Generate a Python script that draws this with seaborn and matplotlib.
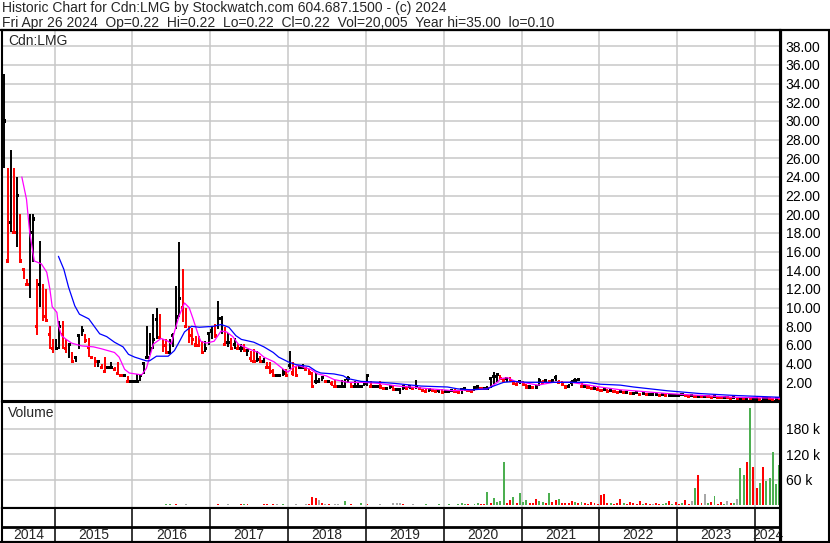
import numpy as np
import pandas as pd
import seaborn as sns
import matplotlib
matplotlib.use('Agg')
from matplotlib import pyplot as plt
from matplotlib.lines import Line2D

# half-month bars, May 2014 .. Apr 2024
START = 2014 + 4 / 12
X0, X1 = 2014.325, 2024.321

high = [
    35.0, 25.0, 26.9, 25.0, 24.0, 20.0, 14.1, 13.1, 20.0, 20.0, 13.1, 17.1, 12.5, 12.0, 8.0, 6.6,
    6.6, 8.6, 8.6, 6.6, 6.1, 5.2, 4.7, 7.2, 8.0, 7.2, 6.7, 4.7, 4.7, 4.2, 4.0, 4.7, 3.6, 4.2, 3.6, 4.2, 2.9, 2.7, 2.7, 2.1,
    2.1, 2.9, 2.9, 4.2, 8.0, 7.3, 9.3, 10.0, 9.3, 6.6, 6.6, 6.6, 7.3, 12.3, 17.0, 14.1, 10.0, 8.0, 7.8, 7.0, 7.0, 6.4, 6.4, 7.2,
    8.0, 8.2, 10.7, 9.1, 7.9, 7.3, 6.8, 6.8, 6.1, 6.1, 6.1, 5.6, 5.4, 5.6, 5.4, 4.8, 4.6, 4.2, 4.2, 3.4, 2.9, 2.9, 3.4, 3.4,
    5.4, 4.2, 3.8, 3.6, 4.0, 3.6, 3.4, 3.1, 3.0, 2.5, 2.6, 2.1, 2.1, 2.1, 2.2, 1.6, 2.2, 2.4, 2.7, 1.9, 2.1, 1.9, 1.6, 2.0,
    2.7, 2.1, 1.6, 1.6, 2.1, 1.5, 1.3, 1.6, 1.6, 1.3, 1.3, 1.5, 1.6, 1.6, 1.5, 2.3, 1.4, 1.3, 1.3, 1.2, 1.2, 1.1, 1.2, 1.3,
    1.0, 1.1, 1.2, 1.3, 1.0, 1.4, 1.3, 1.3, 1.2, 1.4, 1.6, 1.4, 1.3, 1.6, 2.6, 3.1, 3.0, 2.8, 2.5, 2.5, 2.6, 2.2, 2.0, 2.2,
    2.1, 1.8, 1.6, 1.6, 1.6, 2.5, 2.3, 2.3, 2.3, 2.3, 2.8, 2.3, 2.1, 1.7, 1.8, 2.2, 2.5, 2.5, 2.0, 1.8, 1.7, 1.5, 1.6, 1.5,
    1.3, 1.3, 1.3, 1.2, 1.2, 1.1, 1.2, 1.0, 1.0, 1.0, 0.9, 1.0, 0.9, 0.9, 0.9, 0.8, 0.8, 0.8, 0.8, 0.8, 0.7, 0.8, 0.7, 0.7,
    0.8, 0.7, 0.7, 0.65, 0.6, 0.6, 0.6, 0.6, 0.55, 0.5, 0.5, 0.5, 0.5, 0.45, 0.45, 0.45, 0.4, 0.4, 0.4, 0.4, 0.35, 0.35, 0.35, 0.3,
    0.3, 0.3, 0.3, 0.35, 0.35, 0.3, 0.3, 0.22,
]
low = [
    25.0, 15.0, 18.1, 18.1, 16.5, 15.0, 13.1, 12.5, 11.0, 14.9, 7.1, 10.1, 8.6, 8.6, 5.6, 5.1,
    5.6, 5.6, 5.6, 5.1, 4.6, 4.2, 4.2, 5.6, 7.0, 6.2, 4.7, 4.7, 3.6, 3.6, 3.6, 3.2, 3.6, 3.6, 3.2, 2.9, 2.7, 2.7, 2.1, 2.1,
    2.1, 2.1, 2.1, 2.9, 4.7, 4.9, 5.6, 6.6, 6.6, 5.2, 5.2, 5.2, 5.8, 7.7, 9.0, 8.5, 8.0, 6.2, 6.0, 5.9, 5.9, 5.2, 5.2, 6.0,
    6.6, 6.8, 7.7, 7.2, 6.1, 5.8, 5.6, 5.6, 5.6, 5.2, 5.2, 4.8, 4.2, 4.2, 4.2, 4.2, 4.2, 3.6, 2.9, 2.7, 2.7, 2.7, 2.7, 2.7,
    3.4, 2.7, 2.7, 3.6, 3.4, 3.4, 3.0, 1.6, 1.8, 2.1, 2.1, 2.1, 2.1, 1.6, 1.6, 1.6, 1.4, 1.6, 1.9, 1.6, 1.6, 1.6, 1.6, 1.6,
    1.6, 1.6, 1.6, 1.6, 1.3, 1.3, 1.3, 1.3, 1.2, 1.2, 0.8, 1.2, 1.3, 1.3, 1.3, 1.3, 1.3, 1.1, 1.0, 1.0, 1.0, 1.0, 0.9, 0.9,
    1.0, 1.0, 1.0, 0.9, 0.8, 0.8, 1.1, 1.0, 1.0, 1.1, 1.3, 1.2, 1.2, 1.2, 1.4, 1.8, 2.0, 2.2, 2.0, 2.0, 2.1, 1.7, 1.6, 1.8,
    1.7, 1.5, 1.4, 1.4, 1.4, 1.6, 2.0, 2.0, 2.0, 2.0, 2.1, 2.0, 1.7, 1.5, 1.5, 1.6, 2.0, 2.2, 1.6, 1.5, 1.4, 1.2, 1.3, 1.2,
    1.1, 1.1, 1.0, 1.0, 1.0, 0.9, 0.9, 0.9, 0.9, 0.8, 0.8, 0.8, 0.7, 0.7, 0.7, 0.7, 0.7, 0.7, 0.6, 0.6, 0.6, 0.6, 0.6, 0.6,
    0.6, 0.6, 0.55, 0.5, 0.5, 0.5, 0.5, 0.45, 0.45, 0.45, 0.4, 0.4, 0.4, 0.35, 0.35, 0.35, 0.3, 0.3, 0.3, 0.3, 0.25, 0.25, 0.25, 0.25,
    0.2, 0.2, 0.2, 0.2, 0.2, 0.2, 0.2, 0.22,
]
close = [
    30.0, 15.0, 19.1, 18.1, 22.0, 15.0, 14.1, 12.5, 18.1, 19.5, 8.0, 12.5, 9.1, 8.6, 7.1, 5.6,
    5.6, 8.0, 7.1, 5.6, 6.1, 4.2, 4.7, 7.0, 7.6, 6.5, 5.7, 4.7, 4.2, 4.2, 3.6, 3.2, 3.6, 3.6, 3.4, 2.9, 2.7, 2.7, 2.1, 2.1,
    2.1, 2.1, 2.7, 4.0, 4.7, 5.6, 6.6, 8.7, 6.8, 5.9, 5.2, 5.2, 7.0, 9.0, 11.0, 10.0, 8.0, 7.0, 6.6, 6.0, 5.9, 5.2, 5.6, 7.2,
    7.5, 7.0, 8.8, 8.8, 6.1, 6.3, 5.6, 6.1, 5.6, 5.6, 5.4, 5.4, 4.6, 4.2, 4.4, 4.2, 4.2, 3.6, 3.2, 2.7, 2.7, 2.7, 3.0, 2.7,
    3.8, 3.0, 2.7, 3.6, 3.6, 3.4, 3.0, 1.6, 2.1, 2.1, 2.5, 2.1, 2.1, 1.9, 1.6, 1.6, 1.6, 1.6, 2.4, 1.6, 1.6, 1.6, 1.6, 1.9,
    2.7, 1.6, 1.6, 1.6, 1.5, 1.3, 1.3, 1.6, 1.2, 1.2, 1.2, 1.5, 1.3, 1.6, 1.3, 1.6, 1.3, 1.1, 1.0, 1.2, 1.1, 1.0, 1.1, 0.9,
    1.0, 1.0, 1.1, 1.0, 0.9, 1.2, 1.3, 1.1, 1.0, 1.4, 1.5, 1.3, 1.3, 1.3, 2.4, 2.6, 2.8, 2.4, 2.2, 2.4, 2.2, 1.9, 1.8, 2.1,
    1.8, 1.5, 1.5, 1.4, 1.5, 2.2, 2.0, 2.2, 2.1, 2.2, 2.5, 2.0, 1.8, 1.5, 1.6, 2.0, 2.2, 2.3, 1.6, 1.6, 1.5, 1.3, 1.3, 1.2,
    1.1, 1.2, 1.0, 1.1, 1.0, 0.9, 1.0, 0.9, 0.9, 0.8, 0.8, 0.9, 0.7, 0.8, 0.7, 0.7, 0.7, 0.7, 0.6, 0.7, 0.6, 0.6, 0.6, 0.6,
    0.6, 0.65, 0.55, 0.5, 0.55, 0.5, 0.5, 0.45, 0.5, 0.45, 0.4, 0.45, 0.4, 0.35, 0.4, 0.35, 0.3, 0.35, 0.3, 0.3, 0.25, 0.3, 0.25, 0.25,
    0.25, 0.2, 0.25, 0.3, 0.25, 0.2, 0.25, 0.22,
]
# volume in thousands, colour code per bar: r=down, g=up, s=unchanged
volume_k = [
    2, 1, 2, 1, 1, 2, 1, 1, 2, 1, 1, 1, 2, 1, 1, 1,
    1, 1, 1, 1, 1, 1, 1, 1, 1, 1, 1, 1, 1, 1, 1, 1, 1, 1, 1, 1, 1, 1, 1, 1,
    2, 1, 1, 1, 2, 1, 2, 1, 1, 2, 3, 3, 2, 3, 2, 2, 3, 2, 2, 1, 2, 1, 1, 2,
    2, 2, 3, 2, 2, 3, 2, 2, 2, 3, 4, 3, 2, 2, 2, 2, 3, 4, 2, 3, 3, 2, 4, 2,
    2, 2, 3, 2, 2, 3, 4, 20, 17, 13, 5, 3, 3, 2, 3, 4, 2, 11, 2, 3, 2, 2, 6, 2,
    4, 2, 2, 2, 3, 2, 2, 2, 5, 5, 5, 3, 2, 2, 3, 2, 2, 2, 3, 2, 2, 2, 3, 2,
    2, 3, 2, 2, 3, 5, 3, 3, 2, 4, 5, 3, 4, 32, 6, 18, 8, 10, 102, 7, 14, 20, 6, 30,
    8, 12, 6, 5, 15, 10, 8, 6, 30, 8, 12, 15, 6, 5, 6, 10, 8, 5, 8, 6, 4, 8, 5, 4,
    25, 28, 6, 5, 4, 6, 15, 5, 4, 8, 5, 4, 10, 4, 5, 3, 4, 6, 3, 4, 5, 10, 3, 8,
    3, 5, 12, 4, 10, 40, 72, 6, 28, 5, 8, 22, 4, 8, 3, 10, 5, 6, 15, 88, 72, 102, 229, 91,
    40, 52, 91, 57, 65, 126, 50, 95,
]
volume_kind = (
    "rrrgrrrrgrrrrgrr"
    "rgrrgrrgrrrrsrrrgrrsrsss"
    "rrgggggrrgggrrrrsrrrrrgr"
    "rrrsrsrrgrgrrrrrrrsrsrgs"
    "rrsrrsrrrsrsrgssrgrrrrgr"
    "rrrrsrrgsssrrgsrrrgrrrgr"
    "rgrrgggrrggrrgrggggrrgrg"
    "ggrrrggrgrrgrrrrgrgrrrrr"
    "rrrgrrrgrrrrrgrrsrrggrgr"
    "rgrrsgrrsgrgrrgsrgsggrgr"
    "rgrggggg"
)

# moving averages (decimal year, price)
ma_short_t = [2014.58, 2014.64, 2014.68, 2014.74, 2014.83, 2014.90, 2014.94, 2014.97, 2015.03, 2015.05,
              2015.09, 2015.15, 2015.22, 2015.35, 2015.50, 2015.60, 2015.77, 2015.83, 2015.90, 2015.96,
              2016.12, 2016.18, 2016.27, 2016.37, 2016.46, 2016.50, 2016.54, 2016.60, 2016.67, 2016.73,
              2016.78, 2016.85, 2016.88, 2016.95, 2017.05, 2017.14, 2017.21, 2017.29, 2017.36, 2017.49,
              2017.62, 2017.69, 2017.82, 2017.94, 2018.00, 2018.06, 2018.13, 2018.29, 2018.38, 2018.49,
              2018.59, 2018.77, 2018.97, 2019.15, 2019.41, 2019.58, 2019.83, 2020.13, 2020.35, 2020.56,
              2020.69, 2020.73, 2020.82, 2020.92, 2021.08, 2021.21, 2021.41, 2021.63, 2021.79, 2022.01,
              2022.27, 2022.44, 2022.87, 2023.29, 2023.72, 2024.32]
ma_short_v = [24.0, 21.6, 18.1, 15.0, 14.7, 13.8, 12.0, 10.1, 9.5, 8.1,
              7.0, 6.6, 6.2, 5.9, 5.8, 5.6, 5.2, 4.7, 3.4, 3.0,
              2.8, 3.5, 6.1, 6.7, 6.4, 6.1, 7.4, 9.1, 10.5, 10.0,
              8.8, 7.0, 6.4, 6.2, 6.4, 7.5, 7.4, 6.9, 6.1, 5.6,
              5.2, 4.7, 4.2, 3.4, 3.1, 3.6, 3.8, 3.4, 2.9, 2.7,
              2.3, 2.0, 2.0, 1.9, 1.6, 1.5, 1.3, 1.1, 1.2, 1.3,
              2.0, 2.4, 2.5, 2.1, 1.9, 1.7, 2.0, 2.0, 1.8, 1.5,
              1.2, 1.1, 0.8, 0.6, 0.4, 0.3]
ma_long_t = [2015.05, 2015.12, 2015.18, 2015.26, 2015.32, 2015.44, 2015.51, 2015.58, 2015.67, 2015.77,
             2015.88, 2015.95, 2016.03, 2016.18, 2016.22, 2016.31, 2016.46, 2016.54, 2016.60, 2016.67,
             2016.76, 2016.86, 2017.04, 2017.14, 2017.24, 2017.33, 2017.40, 2017.56, 2017.69, 2017.81,
             2017.88, 2018.00, 2018.10, 2018.27, 2018.36, 2018.42, 2018.59, 2018.71, 2018.77, 2018.94,
             2019.19, 2019.35, 2019.47, 2019.71, 2020.05, 2020.18, 2020.35, 2020.56, 2020.64, 2020.77,
             2020.90, 2021.08, 2021.85, 2022.01, 2022.27, 2022.44, 2022.87, 2023.29, 2023.72, 2024.32]
ma_long_v = [15.5, 14.1, 12.2, 10.2, 9.3, 8.8, 8.0, 7.2, 6.9, 6.3,
             5.8, 5.0, 4.7, 4.3, 4.3, 4.8, 4.8, 5.4, 6.3, 7.4,
             8.0, 7.9, 8.0, 8.2, 7.9, 7.0, 6.6, 6.3, 5.8, 5.2,
             4.7, 4.2, 3.9, 3.7, 3.2, 3.0, 2.9, 2.7, 2.4, 2.1,
             2.0, 1.9, 1.8, 1.6, 1.5, 1.3, 1.2, 1.3, 1.6, 2.0,
             2.1, 2.0, 2.0, 1.8, 1.7, 1.5, 1.1, 0.8, 0.6, 0.4]

years = list(range(2014, 2025))
price_ticks = list(range(2, 40, 2))
volume_ticks = [60000, 120000, 180000]

title1 = "Historic Chart for Cdn:LMG by Stockwatch.com 604.687.1500 - (c) 2024"
title2 = "Fri Apr 26 2024  Op=0.22  Hi=0.22  Lo=0.22  Cl=0.22  Vol=20,005  Year hi=35.00  lo=0.10"

W, H = 830, 543
GRID = '#c8c8c8'
FS = 10


def box(x0, y0, x1, y1):
    # pixel box (origin top-left) -> figure fraction rect
    return [x0 / W, 1 - y1 / H, (x1 - x0) / W, (y1 - y0) / H]


def fig_line(xs, ys, lw=1.5):
    fig.add_artist(Line2D([x / W for x in xs], [1 - y / H for y in ys],
                          transform=fig.transFigure, color='black', lw=lw))


sns.set_theme(style='white')
plt.rcParams['font.family'] = ['Liberation Sans', 'DejaVu Sans']

fig = plt.figure(figsize=(W / 100, H / 100), dpi=100)
ax = fig.add_axes(box(2, 30, 780, 401))
axv = fig.add_axes(box(2, 402, 780, 508))
axy = fig.add_axes(box(2, 508, 780, 542))

n = len(close)
t = START + (np.arange(n) + 0.5) / 24
hi = np.array(high)
lo = np.array(low)
cl = np.array(close)
up = np.r_[True, cl[1:] >= cl[:-1]]

# price bars
ax.vlines(t, lo, hi, colors=np.where(up, 'black', 'red'), lw=1.4, zorder=3)
bars = pd.DataFrame({'t': t, 'close': cl, 'dir': np.where(up, 'up', 'down')})
sns.scatterplot(data=bars, x='t', y='close', hue='dir', palette={'up': 'black', 'down': 'red'},
                marker='s', s=5, linewidth=0, legend=False, ax=ax, zorder=4)
sns.lineplot(x=ma_short_t, y=ma_short_v, color='#ff00ff', lw=0.9, ax=ax, zorder=5)
sns.lineplot(x=ma_long_t, y=ma_long_v, color='#0000ff', lw=0.9, ax=ax, zorder=5)

ax.set_xlim(X0, X1)
ax.set_ylim(0, 39.75)
ax.set_xticks(years[1:])
ax.set_xticklabels([])
ax.set_yticks(price_ticks)
ax.set_yticklabels([f'{v:.2f}' for v in price_ticks])

# volume
vol = pd.DataFrame({'t': t, 'v': np.array(volume_k) * 1000, 'k': list(volume_kind)})
sns.histplot(data=vol, x='t', weights='v', binwidth=1 / 24, binrange=(START, START + n / 24),
             hue='k', palette={'r': '#ff0000', 'g': '#4caf50', 's': '#a8a8a8'}, multiple='layer',
             shrink=0.6, alpha=1, linewidth=0, legend=False, ax=axv)
axv.set_xlim(X0, X1)
axv.set_ylim(-5900, 243500)
axv.set_xticks(years[1:])
axv.set_xticklabels([])
axv.set_yticks(volume_ticks)
axv.set_yticklabels([f'{v // 1000} k' for v in volume_ticks])

for a in (ax, axv):
    a.set_xlabel('')
    a.set_ylabel('')
    a.grid(True, color=GRID, lw=1.1)
    a.set_axisbelow(True)
    a.yaxis.tick_right()
    a.tick_params(axis='y', length=0, pad=4, labelsize=FS, labelcolor='black')
    a.tick_params(axis='x', length=0)
    for s in a.spines.values():
        s.set_color('black')
        s.set_linewidth(1.5)

# year strip
axy.set_xlim(X0, X1)
axy.set_ylim(0, 34)
axy.set_xticks([])
axy.set_yticks([])
axy.vlines(years[1:], 0, 34, color='black', lw=1.1)
axy.axhline(15, color='black', lw=2)
for y in years:
    c = (max(y, X0) + min(y + 1, X1)) / 2
    axy.text(c, 7, str(y), ha='center', va='center', fontsize=FS)
for s in axy.spines.values():
    s.set_color('black')
    s.set_linewidth(1.5)

fig.text(8 / W, 1 - 41 / H, 'Cdn:LMG', fontsize=FS, va='center')
fig.text(8 / W, 1 - 413 / H, 'Volume', fontsize=FS, va='center')
fig.text(2 / W, 1 - 8 / H, title1, fontsize=FS, va='center')
fig.text(2 / W, 1 - 23 / H, title2, fontsize=FS, va='center')

fig_line([0, W], [30, 30], lw=1.6)
fig_line([828.5, 828.5], [30, H], lw=1.5)
fig_line([0, W], [541.5, 541.5], lw=1.5)
fig_line([781, 781], [30, 542], lw=1.6)

fig.savefig('out.png', dpi=100)
